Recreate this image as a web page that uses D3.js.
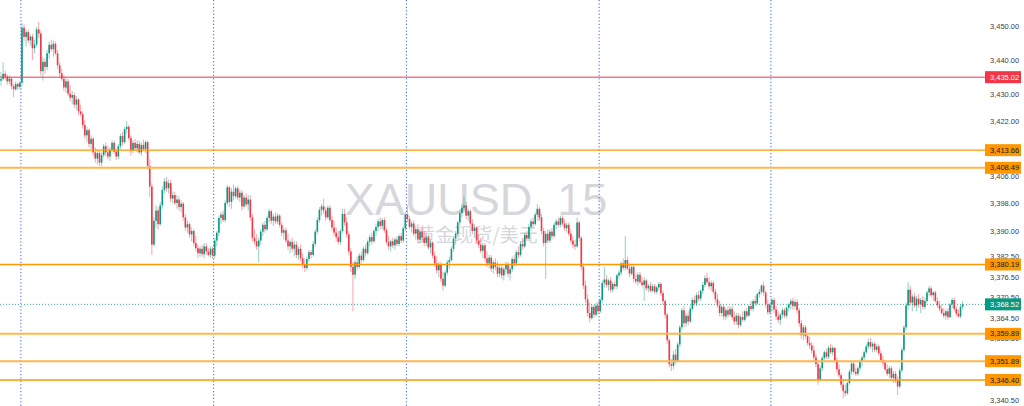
<!DOCTYPE html>
<html><head><meta charset="utf-8">
<script src="https://cdn.jsdelivr.net/npm/d3@7"></script>
<style>html,body{margin:0;padding:0;background:#fff;overflow:hidden}</style>
</head><body><svg id="c" width="1024" height="406"></svg>
<script>
// OHLC candles [open, high, low, close], 15-minute bars, grouped per session
const dayA=[[3434.0,3436.5,3432.5,3434.5],[3434.5,3439.4,3434.0,3436.0],[3436.0,3437.0,3434.2,3435.2],[3435.2,3435.8,3432.8,3433.8],[3433.8,3435.5,3433.0,3434.6],[3434.6,3435.0,3431.5,3432.4],[3432.4,3433.0,3429.1,3431.5],[3431.5,3433.8,3431.0,3433.0],[3433.0,3433.5,3431.2,3432.2],[3432.2,3434.0,3431.5,3433.4]];
const dayB=[[3433.4,3451.0,3432.5,3449.5],[3449.5,3450.5,3445.5,3446.8],[3446.8,3448.9,3444.0,3448.2],[3448.2,3449.0,3445.0,3445.8],[3445.8,3447.5,3444.2,3446.9],[3446.9,3447.8,3440.0,3443.5],[3443.5,3446.0,3442.0,3444.6],[3444.6,3449.8,3444.0,3449.0],[3449.0,3451.2,3446.5,3447.8],[3447.8,3448.6,3435.5,3436.8],
[3436.8,3441.0,3434.0,3439.5],[3439.5,3440.5,3436.0,3438.0],[3438.0,3443.0,3437.0,3442.0],[3442.0,3445.5,3440.5,3444.5],[3444.5,3446.0,3442.5,3443.2],[3443.2,3445.8,3441.0,3444.8],[3444.8,3445.5,3441.5,3442.0],[3442.0,3443.0,3437.5,3438.5],[3438.5,3439.5,3435.0,3436.2],[3436.2,3437.5,3433.8,3434.5],
[3434.5,3435.5,3431.0,3432.0],[3432.0,3435.0,3430.5,3433.8],[3433.8,3434.5,3429.5,3430.2],[3430.2,3432.5,3428.0,3429.0],[3429.0,3431.0,3427.0,3429.8],[3429.8,3430.5,3426.0,3427.0],[3427.0,3429.5,3425.5,3428.5],[3428.5,3429.0,3424.0,3425.0],[3425.0,3427.0,3423.5,3424.2],[3424.2,3425.0,3420.0,3421.0],
[3421.0,3422.5,3417.0,3418.0],[3418.0,3420.5,3416.0,3419.5],[3419.5,3420.0,3414.5,3415.5],[3415.5,3418.0,3414.0,3417.0],[3417.0,3417.5,3412.0,3413.0],[3413.0,3414.5,3410.0,3411.2],[3411.2,3413.8,3409.5,3412.8],[3412.8,3413.5,3409.0,3410.0],[3410.0,3413.0,3409.0,3412.2],[3412.2,3415.5,3411.5,3414.8],
[3414.8,3416.0,3412.0,3413.0],[3413.0,3415.0,3411.0,3411.8],[3411.8,3414.5,3410.5,3413.8],[3413.8,3416.5,3413.0,3415.8],[3415.8,3416.5,3412.5,3413.2],[3413.2,3414.0,3410.8,3411.8],[3411.8,3415.5,3411.0,3414.8],[3414.8,3418.5,3414.0,3417.8],[3417.8,3419.0,3415.0,3416.0],[3416.0,3420.5,3415.5,3419.8],
[3419.8,3422.2,3418.5,3420.5],[3420.5,3421.0,3416.5,3417.2],[3417.2,3418.0,3412.0,3413.5],[3413.5,3416.5,3412.8,3415.8],[3415.8,3417.0,3413.5,3414.2],[3414.2,3416.5,3413.0,3415.5],[3415.5,3416.5,3412.5,3413.0],[3413.0,3416.0,3412.0,3415.2],[3415.2,3416.8,3413.5,3414.0],[3414.0,3416.5,3412.8,3416.0],
[3416.0,3416.5,3408.0,3409.0],[3409.0,3411.0,3400.0,3403.0],[3403.0,3404.0,3383.0,3386.0],[3386.0,3394.0,3385.5,3393.0],[3393.0,3397.5,3391.0,3396.0],[3396.0,3397.0,3390.5,3392.0],[3392.0,3398.5,3391.5,3397.5],[3397.5,3403.0,3396.5,3402.0],[3402.0,3405.5,3401.0,3404.5],[3404.5,3405.8,3401.5,3402.5],
[3402.5,3405.0,3401.0,3404.0],[3404.0,3405.0,3398.5,3399.5],[3399.5,3401.5,3398.0,3400.5],[3400.5,3401.5,3397.5,3398.2],[3398.2,3400.5,3396.5,3399.2],[3399.2,3400.0,3396.0,3397.0],[3397.0,3399.0,3395.5,3398.0],[3398.0,3398.5,3393.0,3394.0],[3394.0,3395.0,3390.0,3391.0],[3391.0,3393.0,3389.5,3392.0],
[3392.0,3392.5,3388.0,3389.0],[3389.0,3391.0,3387.0,3390.0],[3390.0,3390.5,3385.5,3386.5],[3386.5,3388.5,3384.0,3385.0],[3385.0,3386.0,3382.0,3383.5],[3383.5,3385.5,3382.5,3384.8],[3384.8,3386.0,3382.5,3383.2],[3383.2,3386.5,3382.0,3385.5],[3385.5,3386.5,3383.0,3384.0],[3384.0,3385.0,3382.5,3383.0],
[3383.0,3385.5,3382.0,3384.8],[3384.8,3385.5,3382.0,3382.8]];
const dayC=[[3382.8,3388.0,3382.0,3387.2],[3387.2,3390.0,3385.5,3389.5],[3389.5,3394.5,3388.5,3393.8],[3393.8,3395.5,3392.0,3394.8],[3394.8,3396.0,3392.5,3393.2],[3393.2,3399.0,3392.5,3398.2],[3398.2,3403.5,3397.5,3402.8],[3402.8,3403.2,3397.0,3398.5],[3398.5,3402.5,3396.5,3401.5],[3401.5,3403.5,3399.0,3400.2],
[3400.2,3403.0,3399.5,3402.5],[3402.5,3403.2,3399.0,3399.8],[3399.8,3402.0,3398.5,3401.2],[3401.2,3402.0,3396.0,3397.2],[3397.2,3400.5,3396.5,3399.8],[3399.8,3401.0,3397.0,3397.8],[3397.8,3400.5,3396.0,3399.2],[3399.2,3400.5,3393.0,3394.0],[3394.0,3395.0,3387.0,3388.0],[3388.0,3390.5,3386.0,3387.0],
[3387.0,3389.0,3384.5,3385.5],[3385.5,3388.0,3380.8,3387.2],[3387.2,3390.5,3386.0,3389.8],[3389.8,3392.5,3388.5,3391.8],[3391.8,3393.0,3389.5,3390.5],[3390.5,3394.5,3390.0,3393.8],[3393.8,3396.5,3392.5,3395.8],[3395.8,3396.2,3392.0,3393.0],[3393.0,3395.0,3391.5,3394.2],[3394.2,3395.5,3392.0,3392.8],
[3392.8,3395.2,3392.0,3394.5],[3394.5,3395.0,3391.0,3391.8],[3391.8,3392.5,3388.5,3389.5],[3389.5,3391.0,3387.5,3390.2],[3390.2,3391.0,3386.5,3387.2],[3387.2,3389.0,3384.5,3385.5],[3385.5,3387.5,3383.5,3386.8],[3386.8,3388.0,3384.0,3384.8],[3384.8,3387.0,3382.5,3386.0],[3386.0,3387.0,3382.0,3383.0],
[3383.0,3385.5,3381.5,3384.8],[3384.8,3386.0,3381.0,3382.0],[3382.0,3383.5,3379.0,3380.0],[3380.0,3382.0,3378.0,3379.2],[3379.2,3382.5,3378.5,3381.8],[3381.8,3384.5,3381.0,3383.8],[3383.8,3384.5,3382.0,3383.0],[3383.0,3387.0,3382.5,3386.2],[3386.2,3390.5,3385.5,3389.8],[3389.8,3394.0,3389.0,3393.2],
[3393.2,3397.0,3392.5,3396.2],[3396.2,3398.0,3394.5,3397.2],[3397.2,3399.5,3395.0,3396.0],[3396.0,3397.0,3393.0,3394.0],[3394.0,3397.5,3393.5,3396.8],[3396.8,3397.5,3392.5,3393.2],[3393.2,3394.5,3390.0,3391.0],[3391.0,3393.0,3388.5,3389.5],[3389.5,3391.0,3387.0,3388.2],[3388.2,3390.0,3386.0,3386.8],
[3386.8,3390.5,3386.0,3390.0],[3390.0,3396.5,3389.5,3395.0],[3395.0,3396.5,3391.5,3392.5],[3392.5,3394.0,3388.0,3389.0],[3389.0,3390.0,3383.0,3384.0],[3384.0,3385.0,3378.0,3379.5],[3379.5,3381.0,3366.5,3377.2],[3377.2,3381.5,3376.0,3380.8],[3380.8,3382.5,3378.5,3379.5],[3379.5,3383.5,3379.0,3382.8],
[3382.8,3384.0,3380.5,3381.5],[3381.5,3385.5,3381.0,3384.8],[3384.8,3386.0,3382.5,3383.5],[3383.5,3387.5,3383.0,3386.8],[3386.8,3389.0,3385.5,3388.2],[3388.2,3389.5,3386.0,3387.0],[3387.0,3390.5,3386.5,3390.0],[3390.0,3392.0,3388.5,3391.2],[3391.2,3393.5,3390.0,3392.8],[3392.8,3394.0,3390.5,3391.5],
[3391.5,3393.8,3390.5,3393.2],[3393.2,3394.0,3389.5,3390.2],[3390.2,3391.0,3386.0,3386.8],[3386.8,3388.5,3384.5,3385.5],[3385.5,3387.5,3384.0,3387.0],[3387.0,3388.0,3385.0,3385.8],[3385.8,3388.0,3384.5,3387.5],[3387.5,3388.5,3385.5,3386.2],[3386.2,3389.0,3385.5,3388.5],[3388.5,3389.5,3386.5,3387.2],
[3387.2,3391.5,3386.5,3390.8],[3390.8,3395.5,3390.0,3394.8]];
const dayD=[[3394.8,3397.5,3392.5,3393.5],[3393.5,3394.5,3390.5,3391.2],[3391.2,3393.0,3389.5,3392.2],[3392.2,3393.0,3388.5,3389.2],[3389.2,3391.5,3387.5,3390.5],[3390.5,3392.0,3386.5,3387.5],[3387.5,3390.5,3386.5,3389.8],[3389.8,3391.0,3387.0,3388.0],[3388.0,3390.0,3385.5,3386.5],[3386.5,3389.0,3385.5,3388.2],
[3388.2,3389.0,3384.5,3385.2],[3385.2,3387.5,3383.5,3386.5],[3386.5,3387.0,3382.0,3382.8],[3382.8,3384.0,3379.5,3380.5],[3380.5,3382.5,3377.5,3378.5],[3378.5,3381.0,3376.5,3380.2],[3380.2,3381.0,3375.0,3376.0],[3376.0,3378.0,3372.5,3374.0],[3374.0,3378.5,3373.5,3377.8],[3377.8,3381.5,3377.0,3380.8],
[3380.8,3382.5,3379.0,3381.5],[3381.5,3385.5,3381.0,3384.8],[3384.8,3388.5,3384.0,3387.8],[3387.8,3390.0,3386.0,3389.2],[3389.2,3393.0,3388.5,3392.5],[3392.5,3396.0,3391.5,3395.2],[3395.2,3398.0,3394.0,3396.8],[3396.8,3400.0,3395.5,3397.5],[3397.5,3398.5,3393.5,3394.5],[3394.5,3396.5,3393.0,3395.8],
[3395.8,3396.5,3391.5,3392.2],[3392.2,3393.5,3389.0,3390.0],[3390.0,3392.0,3388.0,3391.0],[3391.0,3391.5,3386.5,3387.2],[3387.2,3389.0,3385.0,3386.0],[3386.0,3388.0,3383.5,3384.2],[3384.2,3386.5,3382.0,3385.8],[3385.8,3386.5,3381.0,3382.0],[3382.0,3384.0,3379.5,3380.5],[3380.5,3383.0,3379.0,3382.2],
[3382.2,3383.0,3378.0,3379.0],[3379.0,3381.5,3377.5,3380.8],[3380.8,3382.0,3378.5,3379.5],[3379.5,3381.0,3376.5,3377.5],[3377.5,3380.0,3376.5,3379.2],[3379.2,3380.0,3376.0,3377.0],[3377.0,3379.5,3375.5,3378.8],[3378.8,3381.0,3377.5,3380.2],[3380.2,3381.0,3376.5,3377.5],[3377.5,3379.5,3375.5,3378.8],
[3378.8,3382.5,3378.0,3381.8],[3381.8,3383.0,3379.5,3380.5],[3380.5,3384.5,3380.0,3383.8],[3383.8,3385.5,3382.0,3383.0],[3383.0,3387.0,3382.5,3386.2],[3386.2,3388.0,3384.5,3385.5],[3385.5,3389.5,3385.0,3388.8],[3388.8,3390.0,3387.0,3387.8],[3387.8,3392.0,3387.0,3391.2],[3391.2,3393.5,3390.0,3392.8],
[3392.8,3394.0,3391.0,3392.0],[3392.0,3395.5,3391.5,3394.8],[3394.8,3397.8,3394.0,3396.5],[3396.5,3397.0,3393.0,3394.0],[3394.0,3395.0,3389.0,3390.0],[3390.0,3391.0,3385.5,3386.5],[3386.5,3390.0,3376.0,3389.2],[3389.2,3390.5,3386.5,3387.2],[3387.2,3390.5,3386.5,3389.8],[3389.8,3391.0,3387.5,3388.5],
[3388.5,3392.5,3388.0,3391.8],[3391.8,3393.5,3390.5,3392.8],[3392.8,3394.0,3391.0,3391.8],[3391.8,3394.5,3391.0,3393.8],[3393.8,3394.5,3391.5,3392.2],[3392.2,3393.5,3390.0,3390.8],[3390.8,3392.5,3389.5,3391.8],[3391.8,3392.5,3388.5,3389.2],[3389.2,3390.5,3386.5,3387.2],[3387.2,3388.5,3385.0,3386.0],
[3386.0,3387.5,3384.5,3385.5],[3385.5,3394.0,3385.0,3392.5],[3392.5,3393.0,3387.0,3388.0],[3388.0,3388.5,3378.5,3379.5],[3379.5,3380.5,3373.0,3374.0],[3374.0,3375.5,3369.0,3370.0],[3370.0,3371.5,3365.0,3366.0],[3366.0,3369.0,3363.2,3364.5],[3364.5,3368.5,3364.0,3367.8],[3367.8,3368.5,3364.5,3365.5],
[3365.5,3369.0,3365.0,3368.2],[3368.2,3369.5,3365.5,3366.5]];
const dayE=[[3366.5,3370.5,3366.0,3369.8],[3369.8,3375.5,3369.0,3374.8],[3374.8,3379.5,3373.5,3375.8],[3375.8,3377.0,3373.5,3374.2],[3374.2,3376.0,3372.5,3375.5],[3375.5,3376.5,3372.0,3372.8],[3372.8,3375.0,3372.0,3374.5],[3374.5,3375.5,3373.0,3373.8],[3373.8,3377.5,3373.0,3377.0],[3377.0,3378.5,3376.0,3377.8],
[3377.8,3381.0,3377.0,3380.5],[3380.5,3382.0,3378.5,3379.2],[3379.2,3388.5,3378.5,3381.5],[3381.5,3382.5,3378.5,3379.0],[3379.0,3380.5,3376.5,3377.5],[3377.5,3380.0,3377.0,3379.5],[3379.5,3380.0,3375.0,3376.0],[3376.0,3377.5,3374.5,3375.2],[3375.2,3378.0,3374.0,3377.2],[3377.2,3378.0,3374.5,3375.0],
[3375.0,3376.5,3373.5,3374.2],[3374.2,3376.5,3369.5,3375.5],[3375.5,3376.0,3372.5,3373.2],[3373.2,3374.5,3372.0,3374.0],[3374.0,3375.0,3372.0,3372.5],[3372.5,3374.5,3372.0,3373.8],[3373.8,3374.5,3371.5,3372.2],[3372.2,3374.0,3371.5,3373.5],[3373.5,3375.0,3372.5,3374.5],[3374.5,3375.0,3371.0,3371.8],
[3371.8,3372.5,3368.5,3369.5],[3369.5,3370.0,3364.5,3365.5],[3365.5,3366.0,3357.0,3358.0],[3358.0,3358.5,3350.0,3351.0],[3351.0,3352.5,3349.0,3350.5],[3350.5,3355.0,3349.5,3353.8],[3353.8,3355.5,3351.0,3352.0],[3352.0,3357.5,3351.5,3356.8],[3356.8,3362.5,3356.0,3361.8],[3361.8,3367.5,3361.0,3366.8],
[3366.8,3368.0,3362.0,3363.0],[3363.0,3366.0,3362.0,3365.2],[3365.2,3366.5,3362.5,3363.5],[3363.5,3368.0,3363.0,3367.2],[3367.2,3370.5,3366.5,3369.8],[3369.8,3371.0,3368.0,3368.8],[3368.8,3372.0,3368.0,3371.2],[3371.2,3372.5,3369.5,3370.2],[3370.2,3373.0,3369.5,3372.5],[3372.5,3375.0,3371.5,3374.2],
[3374.2,3377.0,3373.5,3376.2],[3376.2,3377.8,3374.5,3375.0],[3375.0,3376.5,3373.0,3373.8],[3373.8,3375.5,3372.5,3374.8],[3374.8,3375.5,3371.5,3372.2],[3372.2,3373.0,3369.0,3370.0],[3370.0,3371.5,3367.5,3368.2],[3368.2,3369.5,3365.0,3366.0],[3366.0,3368.5,3365.0,3367.8],[3367.8,3368.5,3364.0,3365.0],
[3365.0,3367.5,3364.0,3366.8],[3366.8,3368.0,3364.5,3365.5],[3365.5,3368.0,3365.0,3367.2],[3367.2,3368.0,3364.0,3364.8],[3364.8,3366.5,3362.5,3363.5],[3363.5,3366.0,3362.5,3365.2],[3365.2,3366.0,3361.5,3362.5],[3362.5,3365.5,3362.0,3364.8],[3364.8,3366.5,3363.5,3364.0],[3364.0,3367.0,3363.5,3366.5],
[3366.5,3367.5,3364.5,3365.2],[3365.2,3368.5,3365.0,3368.0],[3368.0,3369.5,3366.5,3367.2],[3367.2,3370.0,3366.5,3369.5],[3369.5,3371.0,3368.0,3368.8],[3368.8,3372.0,3368.5,3371.5],[3371.5,3373.0,3370.5,3372.2],[3372.2,3374.5,3371.5,3374.0],[3374.0,3375.2,3371.0,3372.0],[3372.0,3372.5,3367.5,3368.5],
[3368.5,3370.0,3365.5,3366.2],[3366.2,3369.0,3365.5,3368.5]];
const dayF=[[3368.5,3370.5,3366.5,3369.8],[3369.8,3370.5,3366.0,3367.0],[3367.0,3368.0,3364.0,3365.0],[3365.0,3366.5,3363.0,3364.0],[3364.0,3366.0,3362.5,3365.5],[3365.5,3367.5,3364.5,3366.8],[3366.8,3367.5,3364.5,3365.2],[3365.2,3368.0,3364.5,3367.5],[3367.5,3369.0,3366.5,3368.5],[3368.5,3370.2,3367.0,3369.5],
[3369.5,3370.5,3367.0,3368.0],[3368.0,3370.0,3367.0,3369.2],[3369.2,3370.0,3366.0,3366.8],[3366.8,3367.5,3362.0,3363.0],[3363.0,3364.0,3358.5,3359.5],[3359.5,3362.5,3358.0,3361.8],[3361.8,3362.5,3358.5,3359.2],[3359.2,3360.0,3356.5,3357.2],[3357.2,3359.0,3355.5,3356.5],[3356.5,3357.5,3354.0,3355.0],
[3355.0,3356.5,3352.0,3353.0],[3353.0,3354.0,3350.0,3351.0],[3351.0,3352.0,3345.0,3346.5],[3346.5,3350.5,3346.0,3349.8],[3349.8,3353.5,3349.0,3352.8],[3352.8,3355.0,3351.5,3354.5],[3354.5,3355.5,3352.5,3353.2],[3353.2,3356.5,3352.5,3355.8],[3355.8,3357.0,3354.0,3354.5],[3354.5,3356.5,3353.5,3355.8],
[3355.8,3356.0,3351.5,3352.2],[3352.2,3353.0,3348.5,3349.5],[3349.5,3351.0,3347.0,3347.8],[3347.8,3348.5,3344.0,3345.0],[3345.0,3346.5,3341.0,3343.2],[3343.2,3345.0,3341.5,3342.5],[3342.5,3346.0,3342.0,3345.5],[3345.5,3349.5,3345.0,3348.8],[3348.8,3352.0,3348.0,3351.2],[3351.2,3352.0,3348.0,3348.8],
[3348.8,3350.0,3347.5,3348.2],[3348.2,3350.5,3347.5,3349.8],[3349.8,3352.5,3349.0,3351.8],[3351.8,3353.5,3350.5,3353.0],[3353.0,3355.0,3352.0,3354.5],[3354.5,3357.0,3354.0,3356.2],[3356.2,3358.5,3355.5,3357.5],[3357.5,3358.8,3355.5,3356.2],[3356.2,3357.5,3354.5,3357.0],[3357.0,3357.5,3354.5,3355.2],
[3355.2,3357.0,3354.5,3356.2],[3356.2,3356.8,3353.5,3354.2],[3354.2,3355.0,3351.5,3352.2],[3352.2,3353.5,3350.5,3351.5],[3351.5,3352.0,3349.0,3349.5],[3349.5,3351.0,3347.5,3348.2],[3348.2,3350.5,3347.0,3349.8],[3349.8,3350.5,3346.5,3347.0],[3347.0,3349.0,3345.5,3348.2],[3348.2,3349.0,3345.5,3346.2],
[3346.2,3347.5,3342.0,3344.5],[3344.5,3350.0,3344.0,3349.2],[3349.2,3356.0,3348.5,3355.2],[3355.2,3362.5,3354.5,3361.8],[3361.8,3369.0,3361.0,3368.2],[3368.2,3375.0,3367.0,3372.8],[3372.8,3374.0,3368.0,3369.0],[3369.0,3371.5,3366.5,3370.8],[3370.8,3372.0,3367.5,3368.2],[3368.2,3371.0,3366.5,3370.2],
[3370.2,3371.5,3367.5,3368.5],[3368.5,3370.5,3366.0,3369.8],[3369.8,3371.0,3367.0,3367.8],[3367.8,3370.5,3367.0,3369.5],[3369.5,3372.5,3369.0,3372.0],[3372.0,3374.0,3371.0,3373.2],[3373.2,3373.8,3370.5,3371.2],[3371.2,3372.5,3369.5,3372.0],[3372.0,3372.5,3369.0,3369.5],[3369.5,3370.5,3367.5,3368.2],
[3368.2,3369.5,3366.5,3367.2],[3367.2,3368.5,3365.5,3366.0],[3366.0,3367.5,3364.5,3365.2],[3365.2,3367.0,3364.0,3366.5],[3366.5,3367.5,3364.0,3364.8],[3364.8,3369.0,3364.5,3368.5],[3368.5,3370.5,3367.5,3369.8],[3369.8,3370.5,3366.5,3367.2],[3367.2,3368.0,3365.0,3365.8],[3365.8,3367.0,3364.5,3365.0],
[3365.0,3368.5,3364.5,3367.8],[3367.8,3369.5,3367.0,3368.52]];

const sessionStarts=[10,102,194,286,368];
const tickValues=[3450,3440,3430,3422,3406,3398,3390,3382.5,3376.5,3370.5,3364.5,3358.5,3340.5];
const levelPrices=[3435.02,3413.66,3408.49,3380.19,3359.89,3351.89,3346.40];
const levelKinds=["red","orange","pale","orange","pale","pale","orange"];
const lastPrice=3368.52;
const symbolText="XAUUSD, 15";
const descText="黄金现货/美元";

const candles=[].concat(dayA,dayB,dayC,dayD,dayE,dayF).map((d,i)=>({i,o:d[0],h:d[1],l:d[2],c:d[3]}));

const W=1024,H=406, paneRight=985;
const UP="#089981", DOWN="#F23645";
const svg=d3.select("#c");
const x=d3.scaleLinear().domain([0,candles.length-1]).range([1,962.6]);
const y=d3.scaleLinear().domain([3340.5,3450]).range([400.1,26.0]);
const fmt=d3.format(",.2f");

// watermark
svg.append("text").attr("x",476).attr("y",215).attr("text-anchor","middle")
  .attr("font-family","Liberation Sans, Arial, sans-serif").attr("font-size",45)
  .attr("fill","#d6d7db").text(symbolText);
svg.append("text").attr("x",477).attr("y",242).attr("text-anchor","middle")
  .attr("font-family","Noto Sans CJK SC, sans-serif").attr("font-size",19)
  .attr("fill","#d6d7db").text(descText);

// session separators
svg.append("g").selectAll("line").data(sessionStarts).join("line")
  .attr("x1",d=>x(d-0.5)).attr("x2",d=>x(d-0.5)).attr("y1",0).attr("y2",H)
  .attr("stroke","#2962FF").attr("stroke-width",1).attr("stroke-dasharray","1.2,2.2");

// last price dotted line
svg.append("line").attr("x1",0).attr("x2",paneRight).attr("y1",y(lastPrice)).attr("y2",y(lastPrice))
  .attr("stroke",UP).attr("stroke-width",1).attr("stroke-dasharray","1,2").attr("opacity",0.8);

// candles
const g=svg.append("g");
g.selectAll("line.w").data(candles).join("line").attr("class","w")
  .attr("x1",d=>x(d.i)).attr("x2",d=>x(d.i)).attr("y1",d=>y(d.h)).attr("y2",d=>y(d.l))
  .attr("stroke",d=>d.c>=d.o?UP:DOWN).attr("stroke-opacity",0.45).attr("stroke-width",1);
const bw=1.6;
g.selectAll("rect.b").data(candles).join("rect").attr("class","b")
  .attr("x",d=>x(d.i)-bw/2).attr("width",bw)
  .attr("y",d=>y(Math.max(d.o,d.c)))
  .attr("height",d=>Math.max(0.8,Math.abs(y(d.o)-y(d.c))))
  .attr("fill",d=>d.c>=d.o?UP:DOWN);

// levels
const levelColor={red:"#F23645",orange:"#FF9800",pale:"#FFB74D"};
const levelWidth={red:1,orange:1.4,pale:2};
const levels=levelPrices.map((p,k)=>({p,kind:levelKinds[k]}));
svg.append("g").selectAll("line").data(levels).join("line")
  .attr("x1",0).attr("x2",paneRight).attr("y1",d=>y(d.p)).attr("y2",d=>y(d.p))
  .attr("stroke",d=>levelColor[d.kind]).attr("stroke-width",d=>levelWidth[d.kind]);

// price axis ticks
const axisG=svg.append("g");
axisG.selectAll("text").data(tickValues).join("text")
  .attr("x",990).attr("y",d=>y(d)).attr("dy","0.35em")
  .attr("font-family","Liberation Sans, Arial, sans-serif").attr("font-size",7.5)
  .attr("fill","#3a3e4a").text(d=>fmt(d));

// level labels
const boxes=levels.map(d=>({p:d.p,fill:d.kind==="red"?"#F23645":"#FF9800",txt:d.kind==="red"?"#ffffff":"#131722"}));
boxes.push({p:lastPrice,fill:UP,txt:"#ffffff"});
const lb=svg.append("g").selectAll("g").data(boxes).join("g").attr("transform",d=>`translate(0,${y(d.p)})`);
lb.append("rect").attr("x",985).attr("y",-6).attr("width",36).attr("height",12).attr("fill",d=>d.fill);
lb.append("text").attr("x",990).attr("y",0).attr("dy","0.35em")
  .attr("font-family","Liberation Sans, Arial, sans-serif").attr("font-size",7.5)
  .attr("fill",d=>d.txt).text(d=>fmt(d.p));
</script></body></html>
